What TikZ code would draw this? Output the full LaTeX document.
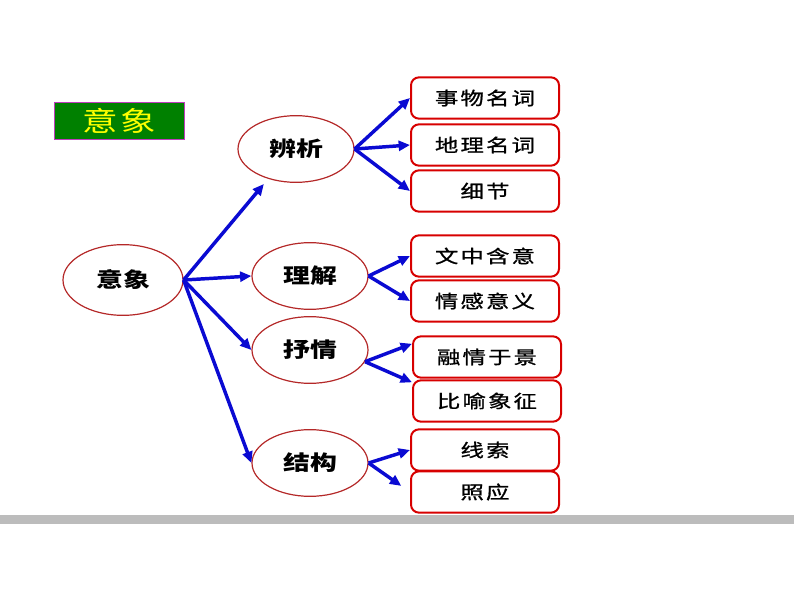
\documentclass[tikz,border=0pt]{standalone}
\usepackage{fontspec}
\usetikzlibrary{shapes.geometric,arrows.meta}
\newfontfamily\ovalcjk[FakeStretch=1.3]{Noto Sans CJK SC}
\newfontfamily\leafcjk[FakeStretch=1.3,LetterSpace=12,FakeBold=1]{Noto Sans CJK SC}
\newfontfamily\titlecjk[FakeStretch=1.3,LetterSpace=8]{Noto Sans CJK SC}
\definecolor{arrowblue}{RGB}{10,10,210}
\definecolor{ovalred}{RGB}{180,40,40}
\definecolor{leafred}{RGB}{215,0,0}
\definecolor{titlegreen}{RGB}{0,128,0}
\definecolor{titleedge}{RGB}{190,60,190}
\definecolor{titleyellow}{RGB}{255,255,0}
\definecolor{bargray}{RGB}{188,188,188}
\begin{document}
\begin{tikzpicture}[
  x=0.75pt,y=-0.75pt,
  link/.style={draw=arrowblue,line width=2.6pt,-{Triangle[length=8.5pt,width=7.5pt]}},
  oval/.style={ellipse,draw=ovalred,line width=0.9pt,minimum width=87pt,
    minimum height=50pt,inner sep=0pt,font=\ovalcjk\fontsize{15.5}{18}\selectfont\bfseries},
  leaf/.style={draw=leafred,line width=1.5pt,rounded corners=6pt,minimum width=111pt,
    minimum height=31pt,inner sep=0pt,font=\leafcjk\fontsize{13.5}{16}\selectfont}]
  \useasboundingbox (0,0) rectangle (794,596);
  \fill[bargray] (0,515) rectangle (794,524);

  \node[draw=titleedge,fill=titlegreen,line width=1pt,minimum width=97.5pt,
    minimum height=27.5pt,inner sep=0pt,text=titleyellow,
    font=\titlecjk\fontsize{20.5}{22}\selectfont] (title) at (119.5,121) {意象};

  \node[oval,minimum width=90pt,minimum height=53pt] (root) at (123,280) {意象};
  \node[oval] (bianxi) at (296,149) {辨析};
  \node[oval] (lijie) at (310,276) {理解};
  \node[oval] (shuqing) at (310,350) {抒情};
  \node[oval] (jiegou) at (310,463) {结构};

  \foreach \name/\x/\y/\txt in {
    shiwu/485/98/事物名词,
    dili/485/145/地理名词,
    xijie/485/191/细节,
    wenzhong/485/256/文中含意,
    qinggan/485/301/情感意义,
    rongqing/487/357/融情于景,
    biyu/487/401/比喻象征,
    xiansuo/485/450/线索,
    zhaoying/485/492/照应}
  {
    \node[leaf] (\name) at (\x,\y) {\txt};
  }

  \draw[link,shorten >=5pt] (root.east) -- (bianxi.227);
  \foreach \to in {lijie,shuqing,jiegou}
    \draw[link] (root.east) -- (\to.west);

  \foreach \from/\to in {
    bianxi/shiwu,bianxi/dili,bianxi/xijie,
    lijie/wenzhong,lijie/qinggan,
    jiegou/xiansuo}
    \draw[link] (\from.east) -- (\to.west);
  \draw[link] (shuqing.-12) -- (rongqing.170);
  \draw[link] (shuqing.-12) -- (biyu.166);
  \draw[link,shorten >=8pt] (jiegou.east) -- (zhaoying.west);
\end{tikzpicture}
\end{document}
